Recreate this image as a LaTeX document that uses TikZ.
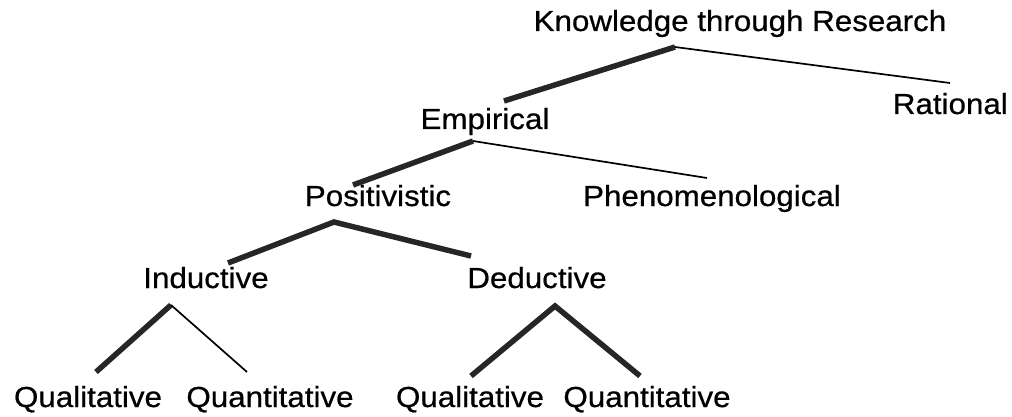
\documentclass[tikz,border=0pt]{standalone}
\usepackage{fontspec}
\setmainfont{Liberation Sans}[FakeStretch=1.08,FakeBold=0.6]
\begin{document}
\begin{tikzpicture}[x=1pt,y=-1pt,
  lbl/.style={anchor=base,inner sep=0pt,font=\fontsize{29}{34}\selectfont},
  thick line/.style={line width=5.5pt,black!85},
  thin line/.style={line width=1.7pt,black}]
\useasboundingbox (0,0) rectangle (1012,417);
\node[lbl] (know) at (740,31) {Knowledge through Research};
\node[lbl,anchor=base east] (rat) at (1008,114) {Rational};
\node[lbl] (emp) at (485,129) {Empirical};
\node[lbl] (pos) at (378,206) {Positivistic};
\node[lbl] (phe) at (712,206) {Phenomenological};
\node[lbl] (ind) at (206,288) {Inductive};
\node[lbl] (ded) at (537,288) {Deductive};
\node[lbl] (q1) at (88,407) {Qualitative};
\node[lbl] (q2) at (270,407) {Quantitative};
\node[lbl] (q3) at (470,407) {Qualitative};
\node[lbl] (q4) at (647,407) {Quantitative};
\coordinate (a0) at (675,47);
\coordinate (a1) at (504,101);
\coordinate (a2) at (950,83);
\coordinate (b0) at (473,141);
\coordinate (b1) at (353,185);
\coordinate (b2) at (707,178);
\coordinate (c0) at (334,222);
\coordinate (c1) at (228,263);
\coordinate (c2) at (471,256);
\coordinate (d0) at (171,305);
\coordinate (d1) at (96,372);
\coordinate (d2) at (247,372);
\coordinate (e0) at (555,306);
\coordinate (e1) at (471,376);
\coordinate (e2) at (640,376);
\draw[thick line] (a1) -- (a0);
\draw[thin line] (a0) -- (a2);
\draw[thick line] (b1) -- (b0);
\draw[thin line] (b0) -- (b2);
\draw[thick line] (c1) -- (c0) -- (c2);
\draw[thick line] (d1) -- (d0);
\draw[thin line] (d0) -- (d2);
\draw[thick line] (e1) -- (e0) -- (e2);
\end{tikzpicture}
\end{document}
